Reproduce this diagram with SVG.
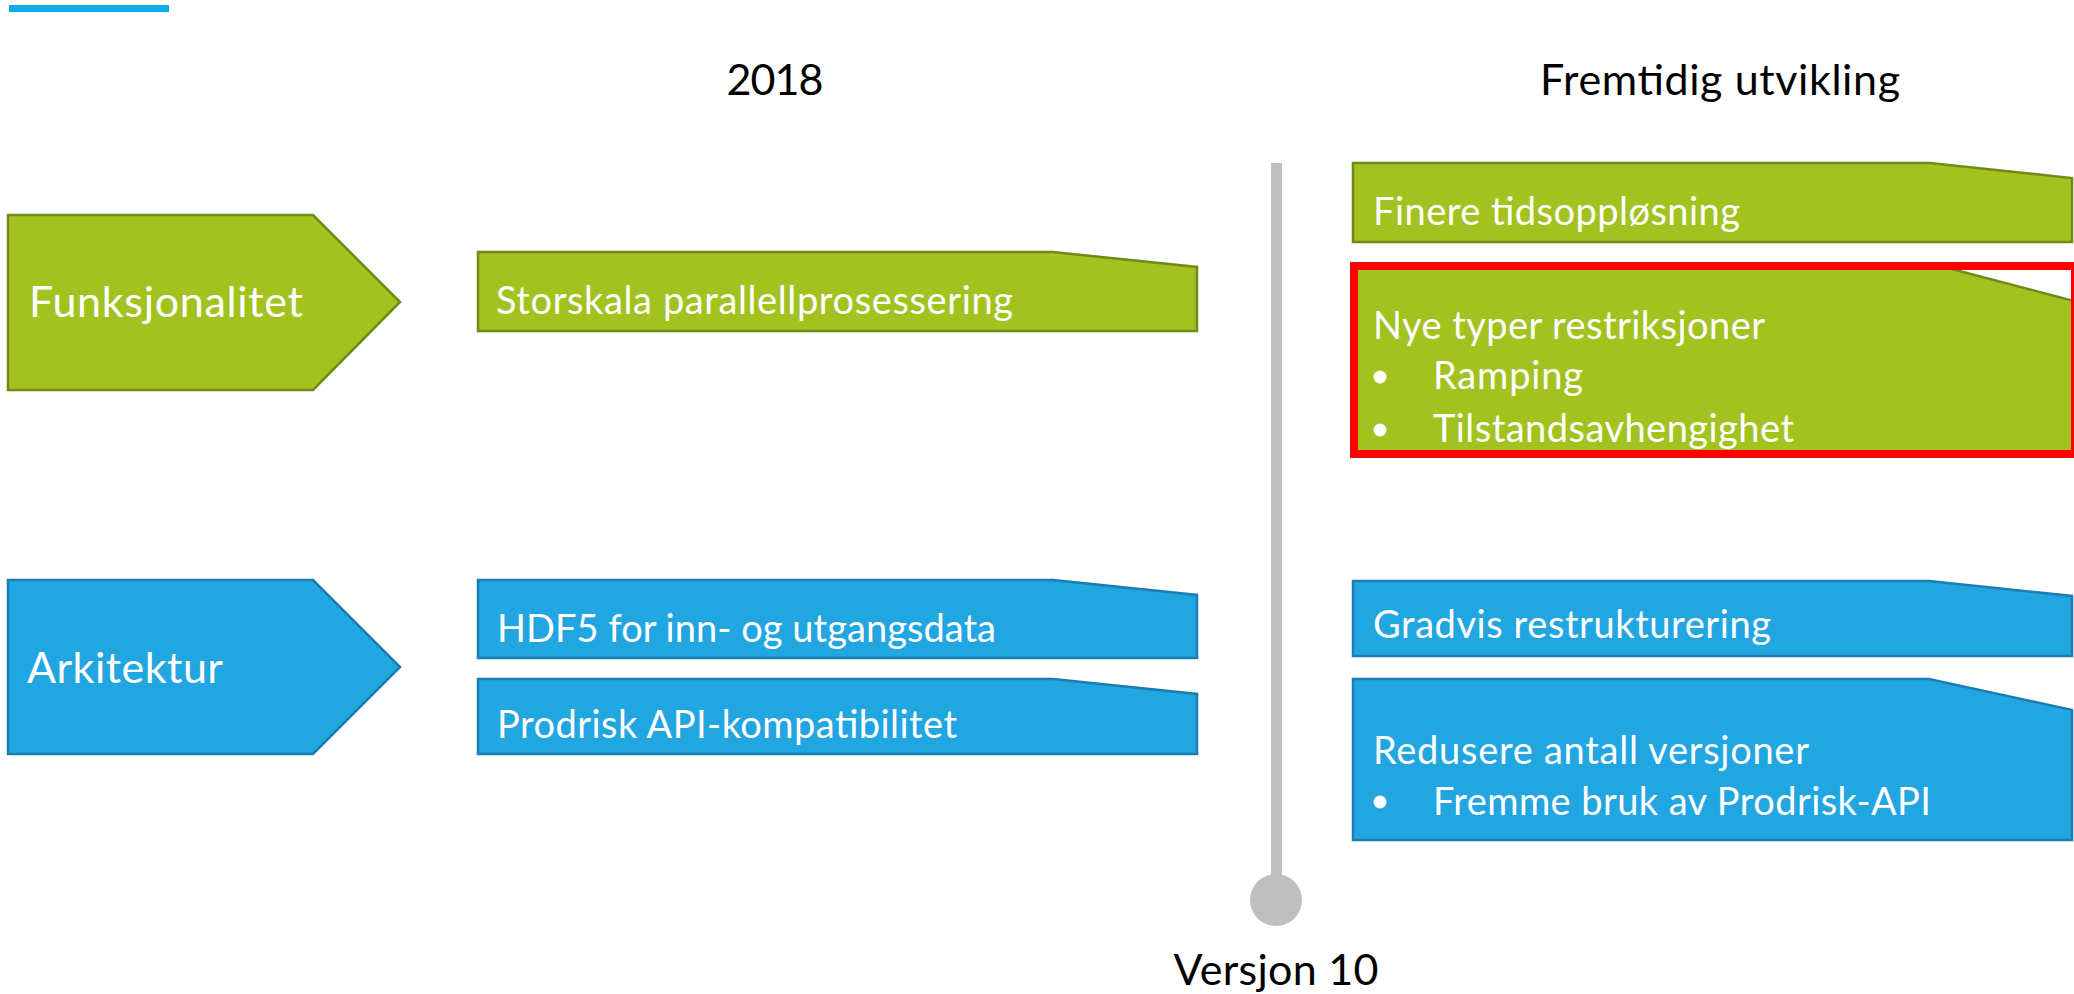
<svg xmlns="http://www.w3.org/2000/svg" width="2074" height="994" viewBox="0 0 2074 994">
  <style>
    .green { fill: #A4C21F; stroke: #6E8B18; stroke-width: 2.5; }
    .blue { fill: #22A6E2; stroke: #1C7DB0; stroke-width: 2.5; }
    .t { font-family: Lato, "Liberation Sans", sans-serif; fill: #FFFFFF; }
    .box { font-size: 38px; }
    .cat { font-size: 43px; }
    .head { font-family: Lato, "Liberation Sans", sans-serif; fill: #000000; font-size: 43px; text-anchor: middle; }
    .dot { fill: #FFFFFF; }
  </style>

  <!-- accent bar -->
  <rect x="9" y="5" width="160" height="7" fill="#0AAEEA"/>

  <!-- column headings -->
  <text class="head" x="775" y="95" textLength="97" lengthAdjust="spacing">2018</text>
  <text class="head" x="1720" y="95" textLength="360" lengthAdjust="spacing">Fremtidig utvikling</text>

  <!-- timeline marker -->
  <g id="timeline">
    <rect x="1271" y="163" width="11" height="720" fill="#BFBFBF"/>
    <circle cx="1276" cy="900" r="26" fill="#BFBFBF"/>
    <text class="head" x="1276" y="985" textLength="205" lengthAdjust="spacing">Versjon 10</text>
  </g>

  <!-- category arrows -->
  <g id="funksjonalitet">
    <polygon class="green" points="8,215 313,215 400,302 313,390 8,390"/>
    <text class="t cat" x="29" y="317" textLength="274" lengthAdjust="spacing">Funksjonalitet</text>
  </g>
  <g id="arkitektur">
    <polygon class="blue" points="8,580 313,580 400,667 313,754 8,754"/>
    <text class="t cat" x="27" y="683" textLength="196" lengthAdjust="spacing">Arkitektur</text>
  </g>

  <!-- 2018 items -->
  <g id="storskala">
    <polygon class="green" points="478,252 1053,252 1197,267 1197,331 478,331"/>
    <text class="t box" x="496" y="314" textLength="517" lengthAdjust="spacing">Storskala parallellprosessering</text>
  </g>
  <g id="hdf5">
    <polygon class="blue" points="478,580 1053,580 1197,595 1197,658 478,658"/>
    <text class="t box" x="497" y="642" textLength="499" lengthAdjust="spacing">HDF5 for inn- og utgangsdata</text>
  </g>
  <g id="prodrisk-api">
    <polygon class="blue" points="478,679 1053,679 1197,694 1197,754 478,754"/>
    <text class="t box" x="497" y="738" textLength="460" lengthAdjust="spacing">Prodrisk API-kompatibilitet</text>
  </g>

  <!-- future items -->
  <g id="finere-tidsopplosning">
    <polygon class="green" points="1353,163 1930,163 2072,178 2072,242 1353,242"/>
    <text class="t box" x="1373" y="225" textLength="367" lengthAdjust="spacing">Finere tidsoppløsning</text>
  </g>
  <g id="nye-restriksjoner">
    <polygon class="green" points="1354,268 1948,268 2074,301 2074,455 1354,455"/>
    <rect x="1354" y="266" width="721" height="188" fill="none" stroke="#FF0000" stroke-width="8"/>
    <text class="t box" x="1373" y="339" textLength="392" lengthAdjust="spacing">Nye typer restriksjoner</text>
    <circle class="dot" cx="1380" cy="377" r="6.5"/>
    <text class="t box" x="1433" y="389" textLength="150" lengthAdjust="spacing">Ramping</text>
    <circle class="dot" cx="1380" cy="430" r="6.5"/>
    <text class="t box" x="1433" y="442" textLength="361" lengthAdjust="spacing">Tilstandsavhengighet</text>
  </g>
  <g id="gradvis">
    <polygon class="blue" points="1353,581 1929,581 2072,596 2072,656 1353,656"/>
    <text class="t box" x="1373" y="638" textLength="398" lengthAdjust="spacing">Gradvis restrukturering</text>
  </g>
  <g id="redusere-versjoner">
    <polygon class="blue" points="1353,679 1929,679 2072,710 2072,840 1353,840"/>
    <text class="t box" x="1373" y="764" textLength="436" lengthAdjust="spacing">Redusere antall versjoner</text>
    <circle class="dot" cx="1380" cy="802" r="6.5"/>
    <text class="t box" x="1433" y="815" textLength="498" lengthAdjust="spacing">Fremme bruk av Prodrisk-API</text>
  </g>

  <!-- no connectors between nodes -->
  <g id="connectors"/>
</svg>
